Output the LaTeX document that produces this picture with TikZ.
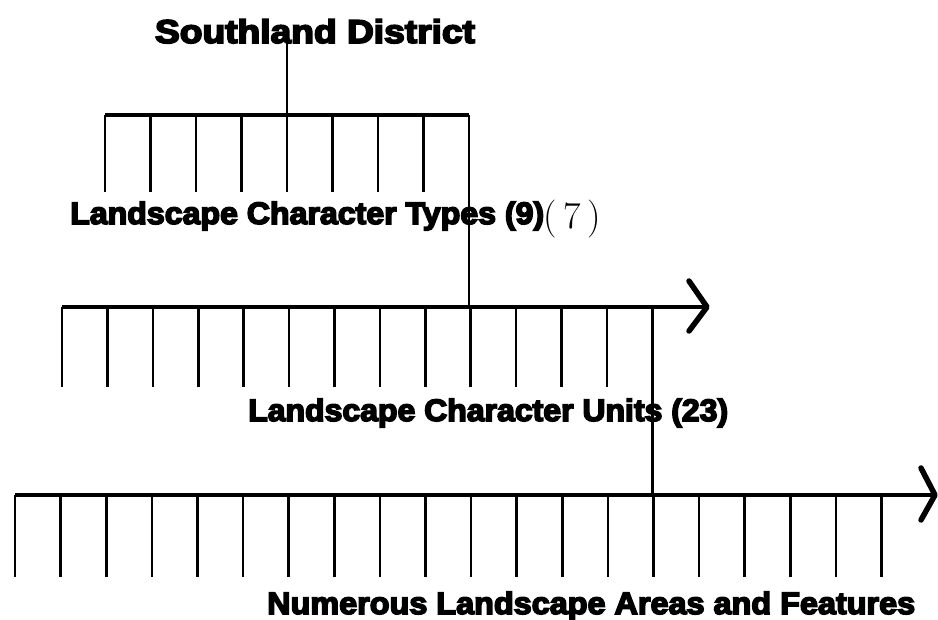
\documentclass[tikz,border=0pt]{standalone}
\usepackage{fontspec}
\newfontfamily\heavy{Liberation Sans Bold}[FakeBold=5]
\usetikzlibrary{calc}
\newcommand{\fitw}[2]{\resizebox{#1}{\height}{#2}}
\begin{document}
\begin{tikzpicture}[x=1pt,y=-1pt,
  bar/.style={line width=4pt},
  tickline/.style={line width=2.6pt},
  link/.style={line width=2.6pt},
  arm/.style={line width=5.5pt, line cap=round, line join=round},
  lbl/.style={inner sep=0pt, anchor=base west, font=\heavy\fontsize{31}{31}\selectfont},
  ttl/.style={inner sep=0pt, anchor=base, font=\heavy\fontsize{33}{33}\selectfont},
  note/.style={inner sep=0pt, font=\rmfamily\fontsize{38}{38}\selectfont}]
\useasboundingbox (0,0) rectangle (938,620);

% title
\node[ttl] (title) at (315,43) {\fitw{320pt}{Southland District}};

% top level
\foreach \i in {0,...,8} {
  \coordinate (a\i) at ({105+45.5*\i},115);
  \draw[tickline] (a\i) -- ++(0,77);
}
\draw[bar] (a0) -- (a8);
\draw[link] (a4 |- title.center) -- (a4);
\node[lbl] (types) at (70,224) {\fitw{474pt}{Landscape Character Types (9)}};
\node[note] (hand) at (572,219) {(\,7\,)};

% middle level
\foreach \i in {0,...,13} {
  \coordinate (b\i) at ({62+45.4*\i},307);
  \draw[tickline] (b\i) -- ++(0,80);
}
\coordinate (btip) at (707,307);
\draw[bar] (b0) -- (btip);
\draw[arm] ($(btip)+(-18,-26)$) -- (btip) -- ($(btip)+(-18,24)$);
\draw[link] (a8) -- (a8 |- b0);
\node[lbl] (units) at (248,421) {\fitw{480pt}{Landscape Character Units (23)}};

% bottom level
\foreach \i in {0,...,19} {
  \coordinate (c\i) at ({15+45.6*\i},495);
  \draw[tickline] (c\i) -- ++(0,82);
}
\coordinate (ctip) at (935,495);
\draw[bar] (c0) -- (ctip);
\draw[arm] ($(ctip)+(-14,-27)$) -- (ctip) -- ($(ctip)+(-14,25)$);
\draw[link] (b13) -- (b13 |- c0);
\node[lbl] (areas) at (267,614) {\fitw{648pt}{Numerous Landscape Areas and Features}};
\end{tikzpicture}
\end{document}
